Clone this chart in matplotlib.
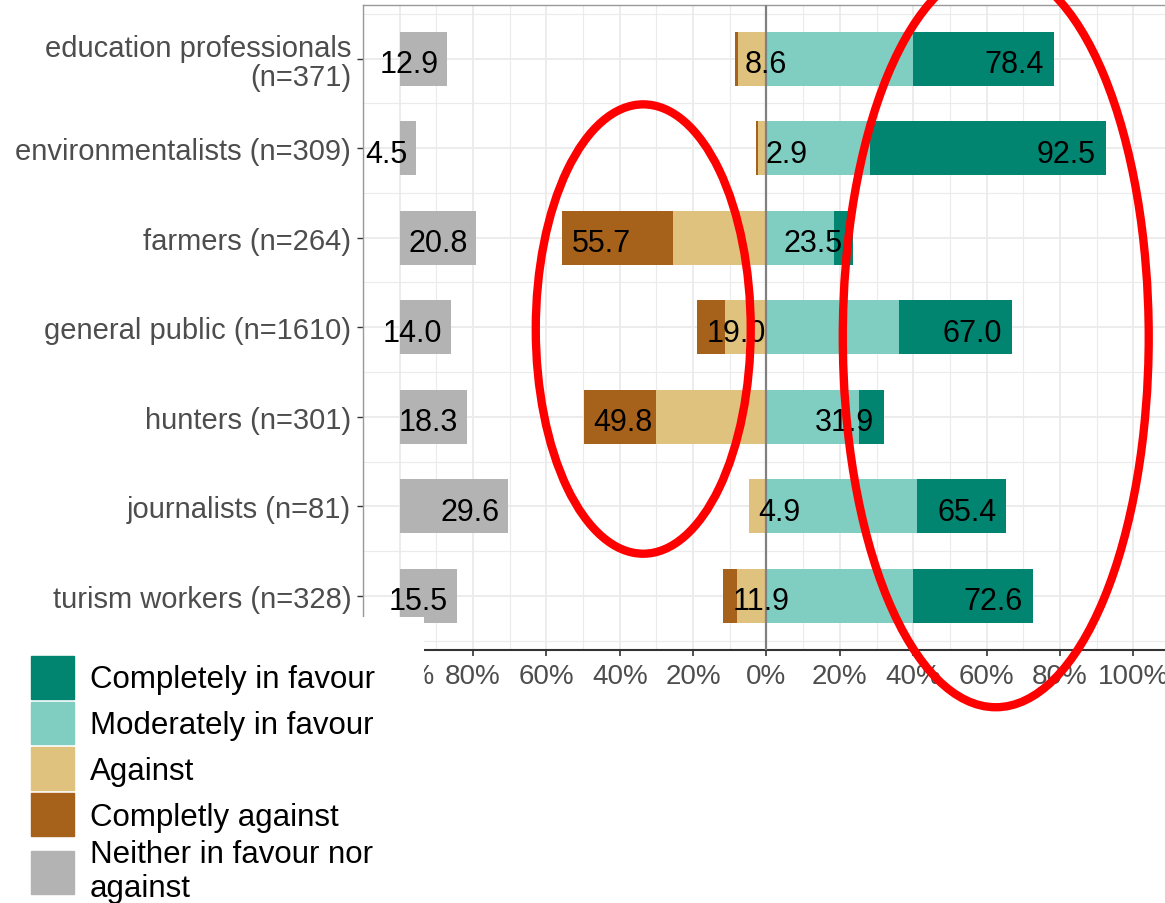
import matplotlib
matplotlib.use("Agg")
import matplotlib.pyplot as plt
from matplotlib.patches import Patch, Rectangle, Ellipse

plt.rcParams['font.family'] = ['Liberation Sans', 'DejaVu Sans']

groups = ["education professionals\n(n=371)", "environmentalists (n=309)", "farmers (n=264)",
          "general public (n=1610)", "hunters (n=301)", "journalists (n=81)", "turism workers (n=328)"]
completely_favour = [38.4, 64.4, 5.1, 31.0, 6.8, 24.4, 32.6]
moderately_favour = [40.0, 28.1, 18.4, 36.0, 25.1, 41.0, 40.0]
against = [7.8, 2.4, 25.5, 11.3, 30.0, 4.9, 8.0]
completely_against = [0.8, 0.5, 30.2, 7.7, 19.8, 0.0, 3.9]
neither = [12.9, 4.5, 20.8, 14.0, 18.3, 29.6, 15.5]

legend_labels = ["Completely in favour", "Moderately in favour", "Against",
                 "Completly against", "Neither in favour nor\nagainst"]
col_cf, col_mf, col_a, col_ca, col_n = "#018571", "#80CDC1", "#DFC27D", "#A6611A", "#B3B3B3"

xticks = [-100, -80, -60, -40, -20, 0, 20, 40, 60, 80, 100]
xticklabels = ["100%", "80%", "60%", "40%", "20%", "0%", "20%", "40%", "60%", "80%", "100%"]

fig = plt.figure(figsize=(11.65, 9.04), dpi=100)
ax = fig.add_axes([363 / 1165, 1 - 650.5 / 904, 807 / 1165, 644.5 / 904])

y = list(range(len(groups)))
h = 0.6
pos_tot = [m + c for m, c in zip(moderately_favour, completely_favour)]
neg_tot = [a + c for a, c in zip(against, completely_against)]

ax.barh(y, moderately_favour, height=h, color=col_mf, zorder=2)
ax.barh(y, completely_favour, left=moderately_favour, height=h, color=col_cf, zorder=2)
ax.barh(y, [-v for v in against], height=h, color=col_a, zorder=2)
ax.barh(y, [-v for v in completely_against], left=[-v for v in against], height=h, color=col_ca, zorder=2)
ax.barh(y, neither, left=-100, height=h, color=col_n, zorder=2)
ax.axvline(0, color="#808080", lw=1.6, zorder=3)

fs = 22
for i in y:
    ax.text(pos_tot[i] - 2.7, i + 0.02, f"{pos_tot[i]:.1f}", ha="right", va="center_baseline", fontsize=fs, zorder=4)
    ax.text(-neg_tot[i] + 2.7, i + 0.02, f"{neg_tot[i]:.1f}", ha="left", va="center_baseline", fontsize=fs, zorder=4)
    ax.text(-100 + neither[i] - 2.3, i + 0.02, f"{neither[i]:.1f}", ha="right", va="center_baseline", fontsize=fs, zorder=4)

ax.set_xlim(-110, 110)
ax.set_ylim(len(groups) - 0.4, -0.6)
ax.set_xticks(xticks)
ax.set_xticklabels(xticklabels)
ax.set_xticks(range(-110, 111, 20), minor=True)
ax.set_yticks(y)
ax.set_yticklabels(groups)
ax.set_yticks([i + 0.5 for i in range(-1, len(groups))], minor=True)
for lab in ax.get_yticklabels():
    lab.set_linespacing(1.05)

ax.grid(True, which="major", color="#EBEBEB", lw=1.3, zorder=0)
ax.grid(True, which="minor", color="#EBEBEB", lw=0.8, zorder=0)
ax.set_axisbelow(True)
ax.tick_params(axis="x", which="major", labelsize=20, labelcolor="#4D4D4D", color="#333333", length=4, width=1.2, pad=6)
ax.tick_params(axis="y", which="major", labelsize=21, labelcolor="#4D4D4D", color="#333333", length=4, width=1.0, pad=4.5)
ax.tick_params(which="minor", length=0)
for s in ["left", "top", "right"]:
    ax.spines[s].set_color("#999999")
    ax.spines[s].set_linewidth(1.0)
ax.spines["bottom"].set_color("#333333")
ax.spines["bottom"].set_linewidth(1.5)

# red highlight ellipses drawn over the chart
ax.add_patch(Ellipse((-33.6, 3.02), 58.6, 5.02, fill=False, edgecolor="red", lw=6, clip_on=False, zorder=10))
ax.add_patch(Ellipse((62.5, 3.11), 83.4, 8.27, fill=False, edgecolor="red", lw=6, clip_on=False, zorder=10))

# white box under the legend
fig.add_artist(Rectangle((0, 0), 424 / 1165, (904 - 618) / 904, transform=fig.transFigure,
                         facecolor="white", edgecolor="none", zorder=1))

handles = [Patch(color=c) for c in [col_cf, col_mf, col_a, col_ca, col_n]]
fig.legend(handles, legend_labels, loc="upper left", bbox_to_anchor=(31 / 1165, 1 - 657 / 904),
           frameon=False, fontsize=22.5, handlelength=1.38, handleheight=1.72, labelspacing=0.1,
           handletextpad=0.5, borderpad=0, borderaxespad=0)

fig.savefig("out.png", dpi=100)
